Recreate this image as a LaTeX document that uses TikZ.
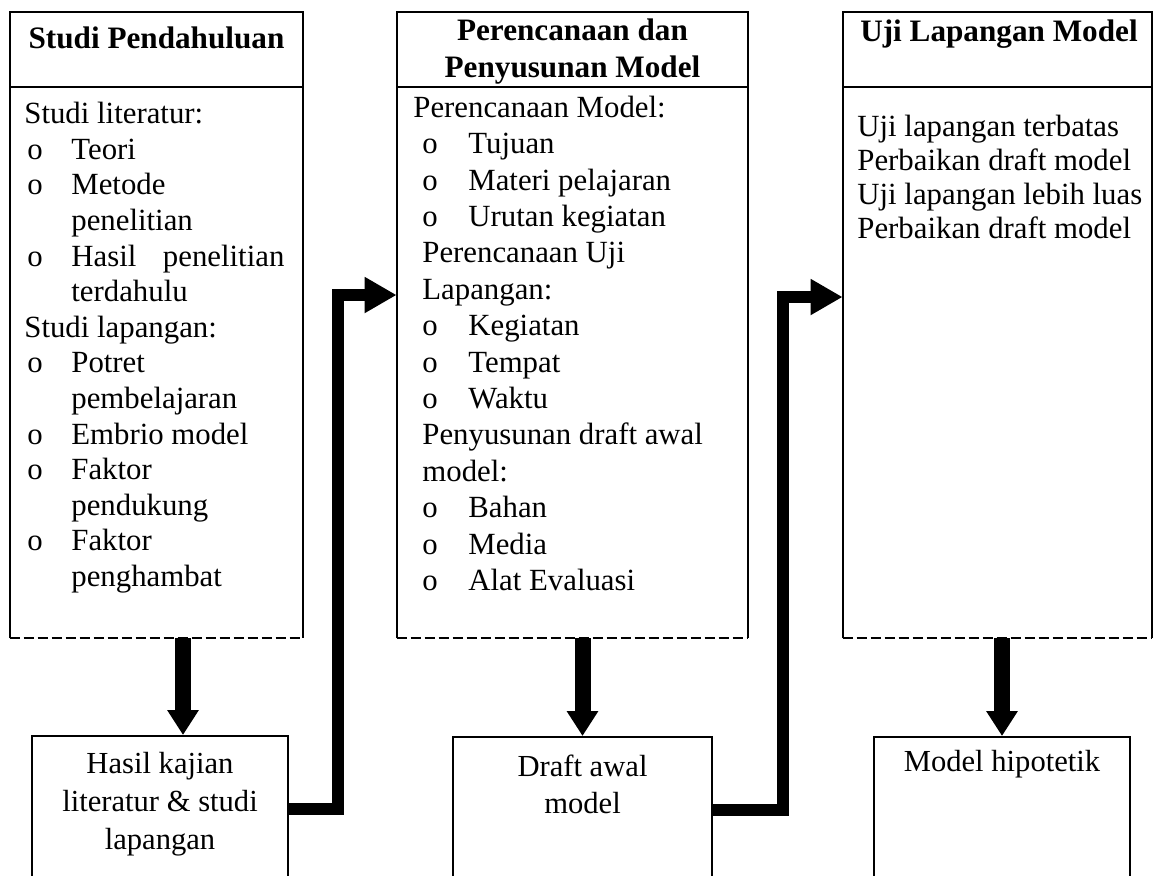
\documentclass[tikz,border=0pt]{standalone}
\usepackage{fontspec}
\setmainfont{Liberation Serif}
\usetikzlibrary{arrows.meta}

\newcommand{\lopt}{\makebox[23.5pt][l]{\hspace{1.5pt}o}}
\newcommand{\mopt}{\makebox[27.5pt][l]{\hspace{4.5pt}o}}

\begin{document}
\begin{tikzpicture}[x=0.5pt, y=-0.5pt,
                    font=\fontsize{15.4}{17.8}\selectfont,
                    bigbox/.style={minimum height=313pt, inner sep=0},
                    smallbox/.style={draw, line width=1pt, minimum height=73pt, inner sep=0, anchor=north},
                    head/.style={font=\fontsize{15.6}{18.5}\selectfont\bfseries, align=center, inner sep=0},
                    body/.style={align=left, anchor=north west, inner sep=0},
                    inbox/.style={anchor=north, align=center, inner sep=0, font=\fontsize{15.3}{18.5}\selectfont},
                    fall/.style={line width=8pt, -{Triangle[width=15pt,length=12.5pt]}},
                    elbowarrow/.style={line width=6pt, line join=miter, -{Triangle[width=17pt,length=16pt]}}]
                \useasboundingbox (0,0) rectangle (1155,875);
                \clip (0,0) rectangle (1155,875);

                % three stages
                \node[bigbox, minimum width=146.5pt] (studi) at (156.5,325) {};
                \node[bigbox, minimum width=175.5pt] (rencana) at (572.5,325) {};
                \node[bigbox, minimum width=154.5pt] (uji) at (997.5,325) {};
                \foreach \b in {studi, rencana, uji} {
                    \draw[line width=1pt] (\b.south west) -- (\b.north west) -- (\b.north east) -- (\b.south east);
                    \draw[line width=1pt, dash pattern=on 5pt off 2pt] (\b.south west) -- (\b.south east);
                    \draw[line width=1pt] ([yshift=-37.5pt]\b.north west) -- ([yshift=-37.5pt]\b.north east);
                }

                \node[head] (studihead) at (156.5,38) {Studi Pendahuluan};
                \node[head] (rencanahead) at (572.5,52) {Perencanaan dan\\Penyusunan Model};
                \node[head] (ujihead) at (999,34) {Uji Lapangan Model};

                \node[body] (studibody) at (24,102) {Studi literatur:\\
                    \lopt Teori\\
                    \lopt Metode\\
                    \hspace*{23.5pt}penelitian\\
                    \lopt\makebox[106.5pt][s]{Hasil penelitian}\\
                    \hspace*{23.5pt}terdahulu\\
                    Studi lapangan:\\
                    \lopt Potret\\
                    \hspace*{23.5pt}pembelajaran\\
                    \lopt Embrio model\\
                    \lopt Faktor\\
                    \hspace*{23.5pt}pendukung\\
                    \lopt Faktor\\
                    \hspace*{23.5pt}penghambat};

                \node[body, font=\fontsize{15.4}{18.2}\selectfont] (rencanabody) at (413,95.5) {Perencanaan Model:\\
                    \mopt Tujuan\\
                    \mopt Materi pelajaran\\
                    \mopt Urutan kegiatan\\
                    \hspace*{4.5pt}Perencanaan Uji\\
                    \hspace*{4.5pt}Lapangan:\\
                    \mopt Kegiatan\\
                    \mopt Tempat\\
                    \mopt Waktu\\
                    \hspace*{4.5pt}Penyusunan draft awal\\
                    \hspace*{4.5pt}model:\\
                    \mopt Bahan\\
                    \mopt Media\\
                    \mopt Alat Evaluasi};

                \node[body, font=\fontsize{15.4}{17}\selectfont] (ujibody) at (857,115) {Uji lapangan terbatas\\
                    Perbaikan draft model\\
                    Uji lapangan lebih luas\\
                    Perbaikan draft model};

                % results
                \node[smallbox, minimum width=128pt] (hasil) at (160,735) {};
                \node[smallbox, minimum width=129.5pt] (draft) at (582.5,736) {};
                \node[smallbox, minimum width=128pt] (hipo) at (1002,736) {};
                \node[inbox, font=\fontsize{15.3}{19}\selectfont] (hasiltext) at ([yshift=-8.5pt]hasil.north) {Hasil kajian\\literatur \& studi\\lapangan};
                \node[inbox] (drafttext) at ([yshift=-9.5pt]draft.north) {Draft awal\\model};
                \node[inbox] (hipotext) at ([yshift=-7pt]hipo.north) {Model hipotetik};

                \coordinate (a1) at (183,0);
                \draw[fall] (studi.south -| a1) -- (hasil.north -| a1);
                \draw[fall] (rencana.south -| draft.north) -- (draft.north);
                \draw[fall] (uji.south -| hipo.north) -- (hipo.north);

                \coordinate (k1) at (338,295);
                \coordinate (k2) at (783,297);
                \draw[elbowarrow] (hasil.east) -| (k1) -- (k1 -| rencana.west);
                \draw[elbowarrow] (draft.east) -| (k2) -- (k2 -| uji.west);
            \end{tikzpicture}
\end{document}
